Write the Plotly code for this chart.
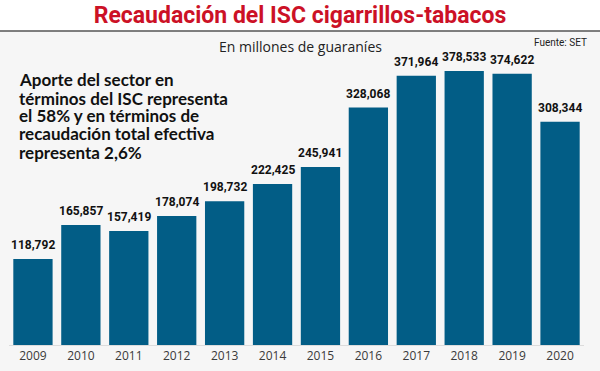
import plotly.graph_objects as go

years = ["2009", "2010", "2011", "2012", "2013", "2014", "2015", "2016", "2017", "2018", "2019", "2020"]
values = [118792, 165857, 157419, 178074, 198732, 222425, 245941, 328068, 371964, 378533, 374622, 308344]
value_labels = ["118,792", "165,857", "157,419", "178,074", "198,732", "222,425", "245,941",
                "328,068", "371,964", "378,533", "374,622", "308,344"]
note_lines = ["Aporte del sector en", "términos del ISC representa", "el 58% y en términos de",
              "recaudación total efectiva", "representa 2,6%"]
title_text = "Recaudación del ISC cigarrillos-tabacos"
subtitle_text = "En millones de guaraníes"
source_text = "Fuente: SET"

W, H = 600, 371
ML, MR, MT, MB = 9, 16, 60, 26
PH = H - MT - MB
NARROW = "Roboto, sans-serif"

def py(px):
    return 1 - (px - MT) / PH

def px_x(px):
    return (px - ML) / (W - ML - MR)

fig = go.Figure()
fig.add_trace(go.Bar(x=years, y=values, marker=dict(color="#025d86", line=dict(width=0)),
                     hoverinfo="skip"))

annotations = []
for i, (v, lab) in enumerate(zip(values, value_labels)):
    annotations.append(dict(x=i, y=v, xref="x", yref="y", text=lab, showarrow=False,
                            yanchor="bottom", yshift=5,
                            font=dict(family=NARROW, size=12, color="#111", weight="bold")))

note_centers = [79, 98, 116, 134, 152]
for line, yc in zip(note_lines, note_centers):
    annotations.append(dict(x=px_x(17), y=py(yc), xref="paper", yref="paper", text=line,
                            showarrow=False, xanchor="left", yanchor="middle", align="left",
                            font=dict(family="Lato, Open Sans, sans-serif", size=17,
                                      color="#111", weight="bold")))

annotations.append(dict(x=px_x(300), y=py(46), xref="paper", yref="paper", text=subtitle_text,
                        showarrow=False, xanchor="center", yanchor="middle",
                        font=dict(family="Open Sans, sans-serif", size=14, color="#222")))
annotations.append(dict(x=px_x(589), y=py(42), xref="paper", yref="paper", text=source_text,
                        showarrow=False, xanchor="right", yanchor="middle",
                        font=dict(family=NARROW, size=10, color="#222")))

shapes = [
    dict(type="rect", xref="paper", yref="paper", x0=px_x(0), x1=px_x(W), y0=py(31), y1=py(0),
         fillcolor="white", line=dict(width=0), layer="below"),
    dict(type="line", xref="paper", yref="paper", x0=px_x(0), x1=px_x(W), y0=py(31), y1=py(31),
         line=dict(color="#555", width=1.5)),
]

fig.update_layout(
    width=W, height=H,
    margin=dict(l=ML, r=MR, t=MT, b=MB, pad=0, autoexpand=False),
    paper_bgcolor="#f6f6f6", plot_bgcolor="#f6f6f6",
    title=dict(text=title_text, x=0.5, xanchor="center", y=1 - 15 / H, yanchor="middle",
               font=dict(family=NARROW, size=23, color="#cc1126", weight="bold")),
    bargap=0.18,
    showlegend=False,
    annotations=annotations,
    shapes=shapes,
    xaxis=dict(type="category", range=[-0.5, len(years) - 0.5], showgrid=False, zeroline=False,
               showline=True, linecolor="#dcdcdc", linewidth=1, ticks="",
               tickfont=dict(family="Open Sans, sans-serif", size=12, color="#3a3a3a"),
               fixedrange=True),
    yaxis=dict(range=[0, PH / 0.0007238], visible=False, showgrid=False, zeroline=False,
               fixedrange=True),
)

fig.write_html("out.html", config={"displayModeBar": False},
               post_script="document.body.style.margin='0';")
